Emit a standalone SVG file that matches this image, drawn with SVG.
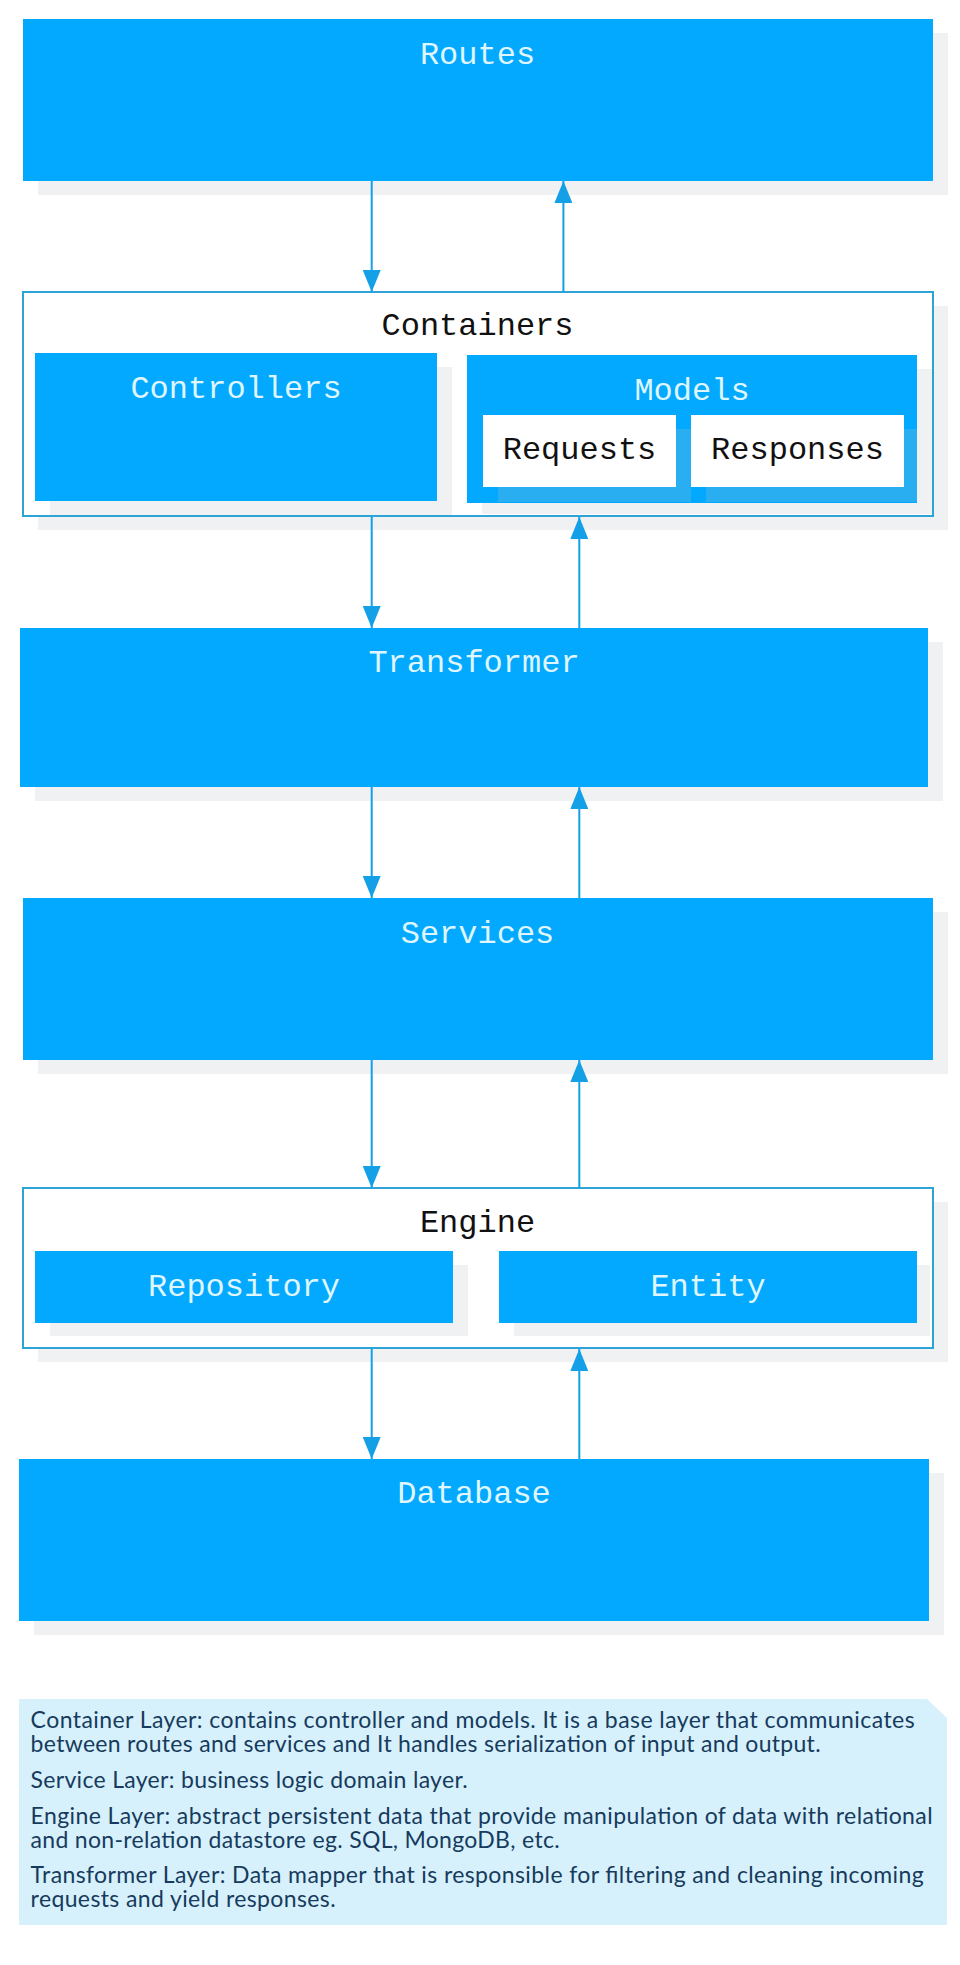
<svg xmlns="http://www.w3.org/2000/svg" width="960" height="1965" viewBox="0 0 960 1965">
<style>
.box{fill:#02a9fe}
.frame{fill:#ffffff;stroke:#2ea3d5;stroke-width:2}
.inner{fill:#ffffff}
.sh{fill:#bcc0c8;fill-opacity:0.22}
.lt{font-family:"Liberation Mono","Courier New",monospace;font-size:32px;fill:#dff6ff;text-anchor:middle}
.dk{font-family:"Liberation Mono","Courier New",monospace;font-size:32px;fill:#111111;text-anchor:middle}
.note{fill:#d6f0fc}
.nt{font-family:Lato,"Open Sans",sans-serif;font-size:23px;fill:#163b5c}
.edge{stroke:#14a0e6;stroke-width:2;fill:none;marker-end:url(#ah)}
</style>
<defs>
<marker id="ah" markerUnits="userSpaceOnUse" markerWidth="22" markerHeight="18" refX="22" refY="9" orient="auto">
<path d="M0,0 L22,9 L0,18 z" fill="#14a0e6"/>
</marker>
</defs>
<g id="routes">
<rect class="sh" x="38" y="33" width="910" height="162"/>
<rect class="box" x="23" y="19" width="910" height="162"/>
<text class="lt" x="477.5" y="64">Routes</text>
</g>
<g id="containers">
<rect class="sh" x="38" y="306" width="910" height="224"/>
<rect class="frame" x="23" y="292" width="910" height="224"/>
<text class="dk" x="477.5" y="335">Containers</text>
</g>
<g id="controllers">
<rect class="sh" x="50" y="367" width="402" height="148"/>
<rect class="box" x="35" y="353" width="402" height="148"/>
<text class="lt" x="236" y="398">Controllers</text>
</g>
<g id="models">
<rect class="sh" x="482" y="369" width="450" height="145"/>
<rect class="box" x="467" y="355" width="450" height="148"/>
<text class="lt" x="692" y="400">Models</text>
</g>
<g id="requests">
<rect class="sh" x="498" y="429" width="193" height="73"/>
<rect class="inner" x="483" y="415" width="193" height="72"/>
<text class="dk" x="579.5" y="459">Requests</text>
</g>
<g id="responses">
<rect class="sh" x="706" y="429" width="211" height="73"/>
<rect class="inner" x="691" y="415" width="213" height="72"/>
<text class="dk" x="797.5" y="459">Responses</text>
</g>
<g id="transformer">
<rect class="sh" x="35" y="642" width="908" height="159"/>
<rect class="box" x="20" y="628" width="908" height="159"/>
<text class="lt" x="474" y="672">Transformer</text>
</g>
<g id="services">
<rect class="sh" x="38" y="912" width="910" height="162"/>
<rect class="box" x="23" y="898" width="910" height="162"/>
<text class="lt" x="477.5" y="943">Services</text>
</g>
<g id="engine">
<rect class="sh" x="38" y="1202" width="910" height="160"/>
<rect class="frame" x="23" y="1188" width="910" height="160"/>
<text class="dk" x="477.5" y="1232">Engine</text>
</g>
<g id="repository">
<rect class="sh" x="50" y="1265" width="418" height="71"/>
<rect class="box" x="35" y="1251" width="418" height="72"/>
<text class="lt" x="244" y="1296">Repository</text>
</g>
<g id="entity">
<rect class="sh" x="514" y="1265" width="416" height="71"/>
<rect class="box" x="499" y="1251" width="418" height="72"/>
<text class="lt" x="708" y="1296">Entity</text>
</g>
<g id="database">
<rect class="sh" x="34" y="1473" width="910" height="162"/>
<rect class="box" x="19" y="1459" width="910" height="162"/>
<text class="lt" x="474" y="1503">Database</text>
</g>
<g id="connectors">
<line class="edge" x1="371.7" y1="181" x2="371.7" y2="292"/>
<line class="edge" x1="563.4" y1="292" x2="563.4" y2="181"/>
<line class="edge" x1="371.7" y1="517" x2="371.7" y2="628"/>
<line class="edge" x1="579.3" y1="628" x2="579.3" y2="517"/>
<line class="edge" x1="371.7" y1="787" x2="371.7" y2="898"/>
<line class="edge" x1="579.3" y1="898" x2="579.3" y2="787"/>
<line class="edge" x1="371.7" y1="1060" x2="371.7" y2="1188"/>
<line class="edge" x1="579.3" y1="1188" x2="579.3" y2="1060"/>
<line class="edge" x1="371.7" y1="1349" x2="371.7" y2="1459"/>
<line class="edge" x1="579.3" y1="1459" x2="579.3" y2="1349"/>
</g>
<g id="note">
<polygon class="note" points="19,1699 927,1699 947,1718 947,1925 19,1925"/>
<text class="nt" x="30.6" y="1728" textLength="884" lengthAdjust="spacing">Container Layer:  contains controller and models. It is a base layer that communicates</text>
<text class="nt" x="30.6" y="1751.5" textLength="790" lengthAdjust="spacing">between routes and services and It handles serialization of input and output.</text>
<text class="nt" x="30.6" y="1788" textLength="437" lengthAdjust="spacing">Service Layer: business logic domain layer.</text>
<text class="nt" x="30.6" y="1824" textLength="902" lengthAdjust="spacing">Engine Layer: abstract persistent data that provide manipulation of data with relational</text>
<text class="nt" x="30.6" y="1847.5" textLength="529" lengthAdjust="spacing">and non-relation datastore eg. SQL, MongoDB, etc.</text>
<text class="nt" x="30.6" y="1883" textLength="893" lengthAdjust="spacing">Transformer Layer: Data mapper that is responsible for filtering and cleaning incoming</text>
<text class="nt" x="30.6" y="1906.5" textLength="305" lengthAdjust="spacing">requests and yield responses.</text>
</g>
</svg>
